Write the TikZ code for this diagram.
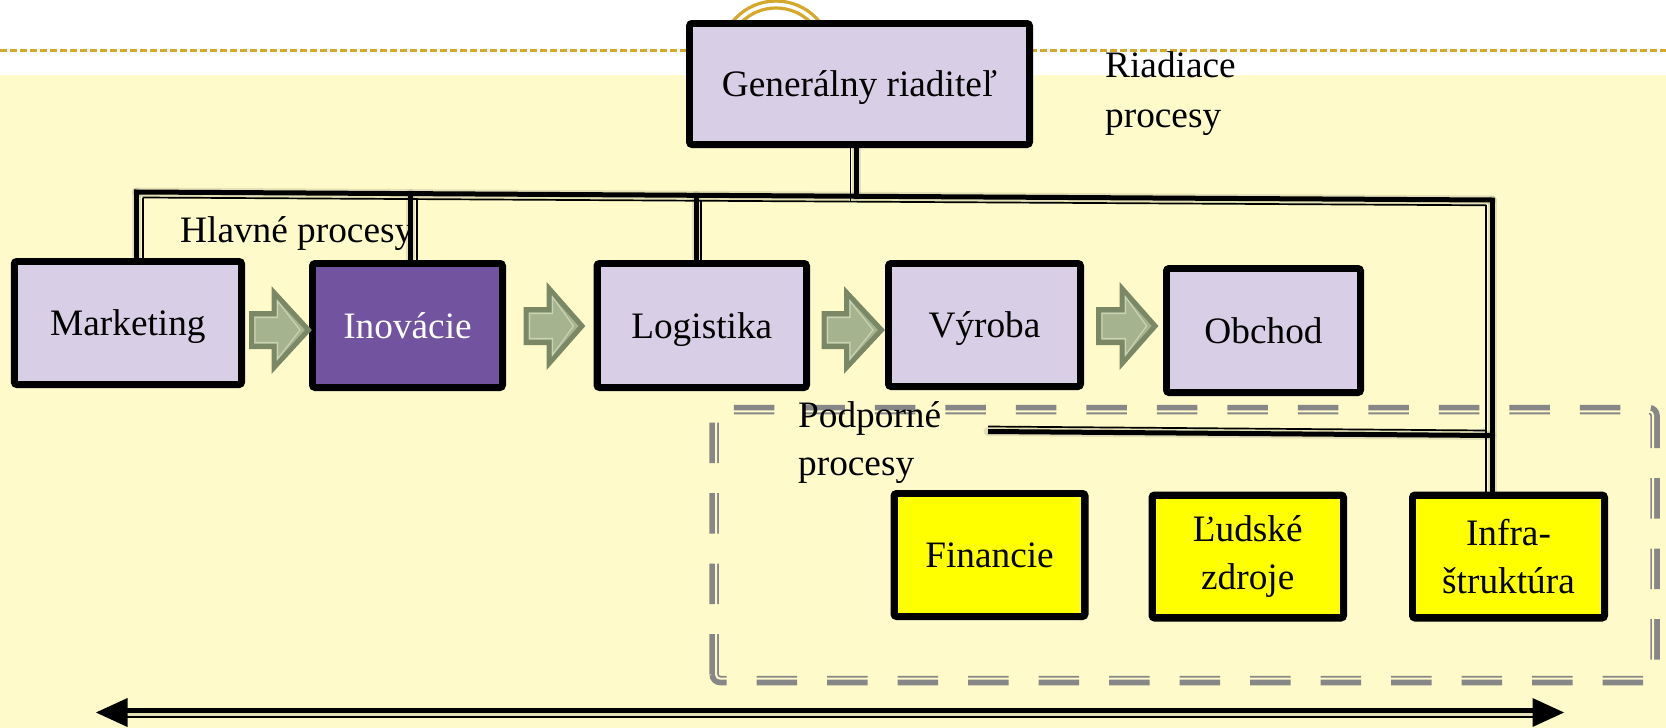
\documentclass[tikz,border=0pt]{standalone}
\usepackage{fontspec}
\setmainfont{Liberation Serif}
\usetikzlibrary{calc,backgrounds}
\definecolor{bgyel}{HTML}{FEFACA}
\definecolor{lav}{HTML}{D8CEE6}
\definecolor{purp}{HTML}{7153A0}
\definecolor{boxyel}{HTML}{FFFF00}
\definecolor{gold}{HTML}{D4A82A}
\definecolor{grn}{HTML}{A5B38E}
\definecolor{grndk}{HTML}{7B8866}
\definecolor{grnlt}{HTML}{C9D3B5}
\definecolor{dashgray}{HTML}{878787}
\newcommand\fsz{\fontsize{37.3pt}{48pt}\selectfont}
\begin{document}
\begin{tikzpicture}[x=1pt,y=-1pt,
  orgbox/.style={draw=black,line width=6pt,rounded corners=3pt,inner sep=0pt,align=center,font=\fsz},
  oneline/.style={text height=25.5pt,text depth=0pt},
  thk/.style={draw=black,line width=5pt,line cap=rect},
  thn/.style={draw=black,line width=1.7pt},
  shd/.style={draw=black,line width=9pt,opacity=0.10,line cap=round},
  innerln/.style={draw=black,line width=1.6pt},
  lbl/.style={inner sep=0pt,font=\fsz,align=left},
  blockarr/.style={fill=grn,draw=grndk,line width=5pt,line join=miter},
  blockin/.style={draw=grnlt,line width=1.2pt},
  boxdash/.style={draw=dashgray,line width=9.5pt,dash pattern=on 40.5pt off 30pt,rounded corners=6pt},
  boxgap/.style={draw=bgyel,line width=2pt,rounded corners=4.2pt}
]
\useasboundingbox (0,0) rectangle (1666,728);

% ---------------- nodes
\node[orgbox,oneline,fill=lav,minimum width=341pt,minimum height=122pt] (ceo) at (859.5,84) {Generálny riaditeľ};
\node[orgbox,oneline,fill=lav,minimum width=228.3pt,minimum height=124pt] (mkt) at (127.9,323) {Marketing};
\node[orgbox,oneline,fill=purp,text=white,minimum width=191pt,minimum height=125pt] (ino) at (407.5,325.5) {Inovácie};
\node[orgbox,oneline,fill=lav,minimum width=210.5pt,minimum height=125pt] (logi) at (701.75,325.5) {Logistika};
\node[orgbox,oneline,fill=lav,minimum width=193pt,minimum height=124pt] (vyr) at (984.5,325) {Výroba};
\node[orgbox,oneline,fill=lav,minimum width=195pt,minimum height=125pt] (obc) at (1263.5,330.5) {Obchod};
\node[orgbox,oneline,fill=boxyel,minimum width=192pt,minimum height=124pt] (fin) at (989.5,555) {Financie};
\node[orgbox,fill=boxyel,minimum width=192.5pt,minimum height=124pt] (lud) at (1247.75,556.5) {Ľudské\\zdroje};
\node[orgbox,fill=boxyel,minimum width=193pt,minimum height=124pt] (inf) at (1508.5,556.5) {Infra-\\štruktúra};

\foreach \n in {ceo,mkt,ino,logi,vyr,obc,fin,lud,inf}
  \draw[innerln] ([shift={(6.6,6.6)}]\n.north west) rectangle ([shift={(-6.6,-6.6)}]\n.south east);

% ---------------- background layer
\begin{scope}[on background layer]
  \fill[white] (0,0) rectangle (1666,728);
  \fill[bgyel] (0,75) rectangle (1666,728);
  \draw[gold,line width=3pt,dash pattern=on 7pt off 3pt] (0,50) -- (1666,50);
  \draw[gold,line width=3.2pt] (776,57) circle[radius=56];
  \draw[gold,line width=3.2pt] (776,57) circle[radius=49];
  \node[lbl,anchor=base west] (hlav) at (180,242.7) {Hlavné procesy};

  % dashed support-process frame
  \draw[boxdash] (714.2,680.5) -- (714.2,409.6) -- (1655,409.6) -- (1655,680.5) -- cycle;
  \draw[boxgap] (716,678.7) -- (716,411.4) -- (1653.2,411.4) -- (1653.2,678.7) -- cycle;

  % junction coordinates
  \coordinate (jm) at (136.7,192);
  \coordinate (ji) at (410.5,193.6);
  \coordinate (jl) at (696,195.3);
  \coordinate (jc) at (856,196.2);
  \coordinate (jr) at (1492,200);
  \coordinate (tm) at (142.7,197.5);
  \coordinate (ti) at (416.7,199.2);
  \coordinate (tl) at (701.3,200.8);
  \coordinate (tc) at (850.5,201);
  \coordinate (tr) at (1486.3,205.3);
  \coordinate (pl) at (988,431.5);
  \coordinate (pr) at (1492,435.5);
  \coordinate (ql) at (988,426.5);
  \coordinate (qr) at (1486.3,430.5);

  % soft shadows
  \begin{scope}[shift={(2,4)}]
    \draw[shd] (jm) -- (jr);
    \draw[shd] (jm) -- (jm |- mkt.north);
    \draw[shd] (ji) -- (ji |- ino.north);
    \draw[shd] (jl) -- (jl |- logi.north);
    \draw[shd] (ceo.south -| jc) -- (jc);
    \draw[shd] (jr) -- (jr |- inf.north);
    \draw[shd] (pl) -- (pr);
  \end{scope}

  % thick connectors
  \draw[thk] (jm) -- (jr);
  \draw[thk] (jm) -- (jm |- mkt.north);
  \draw[thk] (ji) -- (ji |- ino.north);
  \draw[thk] (jl) -- (jl |- logi.north);
  \draw[thk] (ceo.south -| jc) -- (jc);
  \draw[thk] (jr) -- (jr |- inf.north);
  \draw[thk,line cap=butt] (pl) -- (pr);
  % thin companions
  \draw[thn] (tm) -- (tr);
  \draw[thn] (tm) -- (tm |- mkt.north);
  \draw[thn] (ti) -- (ti |- ino.north);
  \draw[thn] (tl) -- (tl |- logi.north);
  \draw[thn] (ceo.south -| tc) -- (tc);
  \draw[thn] (tr) -- (tr |- inf.north);
  \draw[thn] (ql) -- (qr);
\end{scope}

% ---------------- block arrows between main processes
\foreach \xa/\xh/\xb/\cy in {249/274/312/330, 523.5/549/585.5/326, 821.5/846.5/885/330, 1096/1122/1158.6/326}{
  \draw[blockarr] (\xa+2.5,\cy-16.5) -- (\xh,\cy-16.5) -- (\xh,\cy-37.5) -- (\xb-3.5,\cy)
     -- (\xh,\cy+37.5) -- (\xh,\cy+16.5) -- (\xa+2.5,\cy+16.5) -- cycle;
  \draw[blockin] (\xa+6,\cy-12.5) -- (\xh+3.5,\cy-12.5) -- (\xh+3.5,\cy-29) -- (\xb-12,\cy)
     -- (\xh+3.5,\cy+29) -- (\xh+3.5,\cy+12.5) -- (\xa+6,\cy+12.5) -- cycle;
}

% ---------------- labels
\node[lbl,anchor=north west,font=\fontsize{37.3pt}{50pt}\selectfont] (riad) at (1105,51.5) {Riadiace\\procesy};
\node[lbl,anchor=north west] (podp) at (798,401.2) {Podporné\\procesy};

% ---------------- bottom double arrow
\coordinate (aL) at (96,712.5);
\coordinate (aR) at (1564,712.5);
\draw[shd,line width=8pt,shift={(2,4)}] ([shift={(28,0)}]aL) -- ([shift={(-28,0)}]aR);
\draw[thk,line cap=butt] ([shift={(28,-2)}]aL) -- ([shift={(-28,-2)}]aR);
\draw[thn] ([shift={(28,4.5)}]aL) -- ([shift={(-28,4.5)}]aR);
\fill (aL) -- ++(31.5,-14.5) -- ++(0,29) -- cycle;
\fill (aR) -- ++(-31.5,-14.5) -- ++(0,29) -- cycle;
\end{tikzpicture}
\end{document}
